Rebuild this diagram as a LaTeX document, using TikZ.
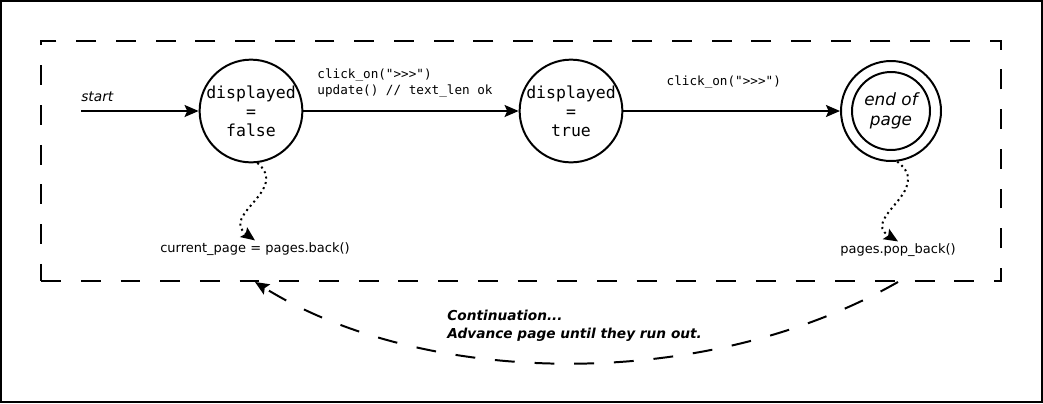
\documentclass[tikz,border=0pt]{standalone}
\usepackage{fontspec}
\setmainfont{DejaVu Sans}
\setmonofont{DejaVu Sans Mono}
\usetikzlibrary{arrows.meta,positioning}

\begin{document}
\begin{tikzpicture}
		[x=0.02cm, y=-0.02cm, auto,
		state/.style ={circle, draw=black, line width=1.13pt, inner sep=0pt, minimum size=2cm, align=center, font=\ttfamily\fontsize{9.4}{10.8}\selectfont},
		endstate/.style ={state, minimum size=1.56cm, font=\itshape\fontsize{9.6}{11.3}\selectfont},
		line/.style ={line width=1.13pt, -{Stealth[length=8pt, width=6.8pt, inset=1.5pt]}},
		codelbl/.style ={inner sep=0pt, align=left, font=\ttfamily\fontsize{7.2}{9}\selectfont},
		calllbl/.style ={inner sep=1pt, font=\fontsize{7.4}{9}\selectfont},
		backline/.style ={draw, line width=1.13pt, dash pattern=on 11.3pt off 11.3pt},
		]
		\useasboundingbox (0,0) rectangle (1043,403);
		\draw[line width=1.13pt] (1,1) rectangle (1042,402);

		\draw (521,161) node[backline, minimum width=19.2cm, minimum height=4.8cm, inner sep=0pt] (box) {};

		\draw (81,111) coordinate (S);
		\draw (81,97) node[anchor=west, inner sep=0pt, font=\itshape\fontsize{7.8}{9}\selectfont] (startlbl) {start};
		\draw (251,111) node[state] (F) {displayed\\=\\false};
		\draw (571,111) node[state] (T) {displayed\\=\\true};
		\draw (891,111) node[state] (E) {};
		\draw (891,111) node[endstate] (Ein) {end of\\page};
		\draw (255,249) node[calllbl] (cur) {current\_page = pages.back()};
		\draw (898,250) node[calllbl] (pop) {pages.pop\_back()};
		\draw (447,326) node[anchor=west, align=left, inner sep=0pt, font=\bfseries\itshape\fontsize{7.8}{10.2}\selectfont] (cont) {Continuation...\\Advance page until they run out.};

		\path[line]
		(S) edge (F)
		(F) edge node[codelbl, above=7pt, xshift=-3.4pt] {click\_on(">>>")\\update() // text\_len ok} (T)
		(T) edge node[codelbl, above=12pt, xshift=-4.5pt] {click\_on(">>>")} (E);

		\draw[line, dotted] (F.-83) .. controls (290,190) and (220,215) .. (cur.north);
		\draw[line, dotted] (E.-83) .. controls (935,190) and (860,218) .. (pop.north);
		\draw[backline, line, dash pattern=on 11.3pt off 11.3pt] (box.south -| pop) .. controls (700,395) and (420,385) .. (box.south -| cur);
	\end{tikzpicture}
\end{document}
